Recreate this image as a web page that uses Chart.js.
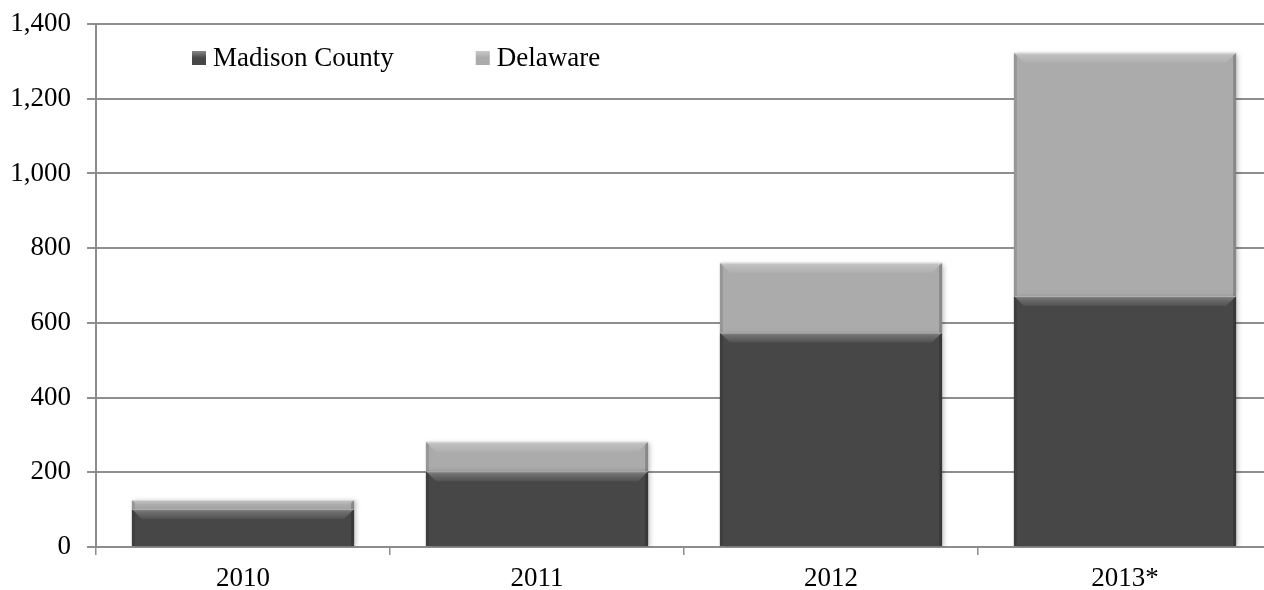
<!DOCTYPE html>
<html>
<head>
<meta charset="utf-8">
<script src="https://cdn.jsdelivr.net/npm/chart.js@4.4.1/dist/chart.umd.min.js"></script>
<style>
  html, body { margin: 0; padding: 0; background: #fff; overflow: hidden; }
  #wrap { width: 1272px; height: 590px; }
</style>
</head>
<body>
<div id="wrap"><canvas id="myChart" width="1272" height="590"></canvas></div>
<script>
var years = ["2010", "2011", "2012", "2013*"];
var madison = [102, 203, 574, 672];
var delaware = [24, 79, 187, 651];
var yTicks = [0, 200, 400, 600, 800, 1000, 1200, 1400];

var serif = "'Liberation Serif', 'Times New Roman', serif";

// soft shadow under the bars
var barShadow = {
  id: 'barShadow',
  beforeDatasetsDraw: function(chart) {
    var ctx = chart.ctx;
    ctx.save();
    ctx.shadowColor = 'rgba(0,0,0,0.28)';
    ctx.shadowBlur = 5;
    ctx.shadowOffsetX = 2;
    ctx.shadowOffsetY = 1;
  },
  afterDatasetsDraw: function(chart) {
    chart.ctx.restore();
  }
};

// bevelled top edge and shaded sides on every bar segment
var bevel = {
  id: 'bevel',
  afterDatasetsDraw: function(chart) {
    var ctx = chart.ctx;
    chart.data.datasets.forEach(function(ds, i) {
      chart.getDatasetMeta(i).data.forEach(function(bar) {
        var p = bar.getProps(['x', 'y', 'base', 'width'], true);
        var l = p.x - p.width / 2, r = p.x + p.width / 2;
        var t = Math.min(p.y, p.base), b = Math.max(p.y, p.base);
        var d = Math.min(10, (b - t) / 2);
        ctx.save();
        var g = ctx.createLinearGradient(0, t, 0, t + d);
        g.addColorStop(0, 'rgba(255,255,255,0.38)');
        g.addColorStop(0.3, 'rgba(255,255,255,0.22)');
        g.addColorStop(1, 'rgba(255,255,255,0.06)');
        ctx.fillStyle = g;
        ctx.beginPath();
        ctx.moveTo(l, t);
        ctx.lineTo(r, t);
        ctx.lineTo(r - d, t + d);
        ctx.lineTo(l + d, t + d);
        ctx.closePath();
        ctx.fill();
        // sides
        var s = Math.min(3, d);
        ctx.fillStyle = 'rgba(0,0,0,0.12)';
        ctx.beginPath();
        ctx.moveTo(l, t);
        ctx.lineTo(l + s, t + s);
        ctx.lineTo(l + s, b);
        ctx.lineTo(l, b);
        ctx.closePath();
        ctx.fill();
        ctx.fillStyle = 'rgba(0,0,0,0.2)';
        ctx.beginPath();
        ctx.moveTo(r, t);
        ctx.lineTo(r - s, t + s);
        ctx.lineTo(r - s, b);
        ctx.lineTo(r, b);
        ctx.closePath();
        ctx.fill();
        ctx.fillStyle = 'rgba(255,255,255,0.35)';
        ctx.fillRect(l, t, r - l, 1);
        ctx.restore();
      });
    });
  }
};

// legend drawn inside the plot, top left
var insideLegend = {
  id: 'insideLegend',
  afterDraw: function(chart) {
    var ctx = chart.ctx;
    var x = 192, y = 58, box = 14;
    ctx.save();
    ctx.font = '27px ' + serif;
    ctx.textBaseline = 'middle';
    chart.data.datasets.forEach(function(ds) {
      ctx.fillStyle = ds.backgroundColor;
      ctx.fillRect(x, y - box / 2, box, box);
      var g = ctx.createLinearGradient(0, y - box / 2, 0, y);
      g.addColorStop(0, 'rgba(255,255,255,0.35)');
      g.addColorStop(1, 'rgba(255,255,255,0)');
      ctx.fillStyle = g;
      ctx.fillRect(x, y - box / 2, box, box / 2);
      ctx.fillStyle = '#000';
      ctx.fillText(ds.label, x + box + 7, y + 1);
      x += box + 7 + ctx.measureText(ds.label).width + 82;
    });
    ctx.restore();
  }
};

new Chart("myChart", {
  type: "bar",
  data: {
    labels: years,
    datasets: [{
      label: 'Madison County',
      data: madison,
      backgroundColor: '#474747',
      borderWidth: 0
    },
    {
      label: 'Delaware',
      data: delaware,
      backgroundColor: '#ababab',
      borderWidth: 0
    }]
  },
  options: {
    responsive: false,
    animation: false,
    categoryPercentage: 1,
    barPercentage: 0.756,
    layout: { padding: { top: 24, right: 0, left: 0, bottom: 0 } },
    plugins: {
      legend: { display: false },
      tooltip: { enabled: false }
    },
    scales: {
      x: {
        stacked: true,
        afterFit: function(s) {
          s.height = 43;
          s.paddingLeft = 0;
          s.paddingRight = 0;
        },
        grid: {
          offset: true,
          drawOnChartArea: false,
          drawTicks: true,
          tickLength: 8,
          color: '#8c8c8c',
          lineWidth: 1.5
        },
        border: { color: '#8c8c8c', width: 2 },
        ticks: {
          color: '#000',
          padding: 8,
          font: { family: serif, size: 27 }
        }
      },
      y: {
        stacked: true,
        min: 0,
        max: 1400,
        afterFit: function(s) {
          s.width = 96;
          s.paddingTop = 0;
          s.paddingBottom = 0;
        },
        afterBuildTicks: function(s) {
          s.ticks = yTicks.map(function(v) { return { value: v }; });
        },
        grid: {
          color: '#8e8e8e',
          lineWidth: 2,
          tickLength: 9
        },
        border: { color: '#8c8c8c', width: 2 },
        ticks: {
          color: '#000',
          padding: 16,
          font: { family: serif, size: 27 }
        }
      }
    }
  },
  plugins: [barShadow, bevel, insideLegend]
});
</script>
</body>
</html>
